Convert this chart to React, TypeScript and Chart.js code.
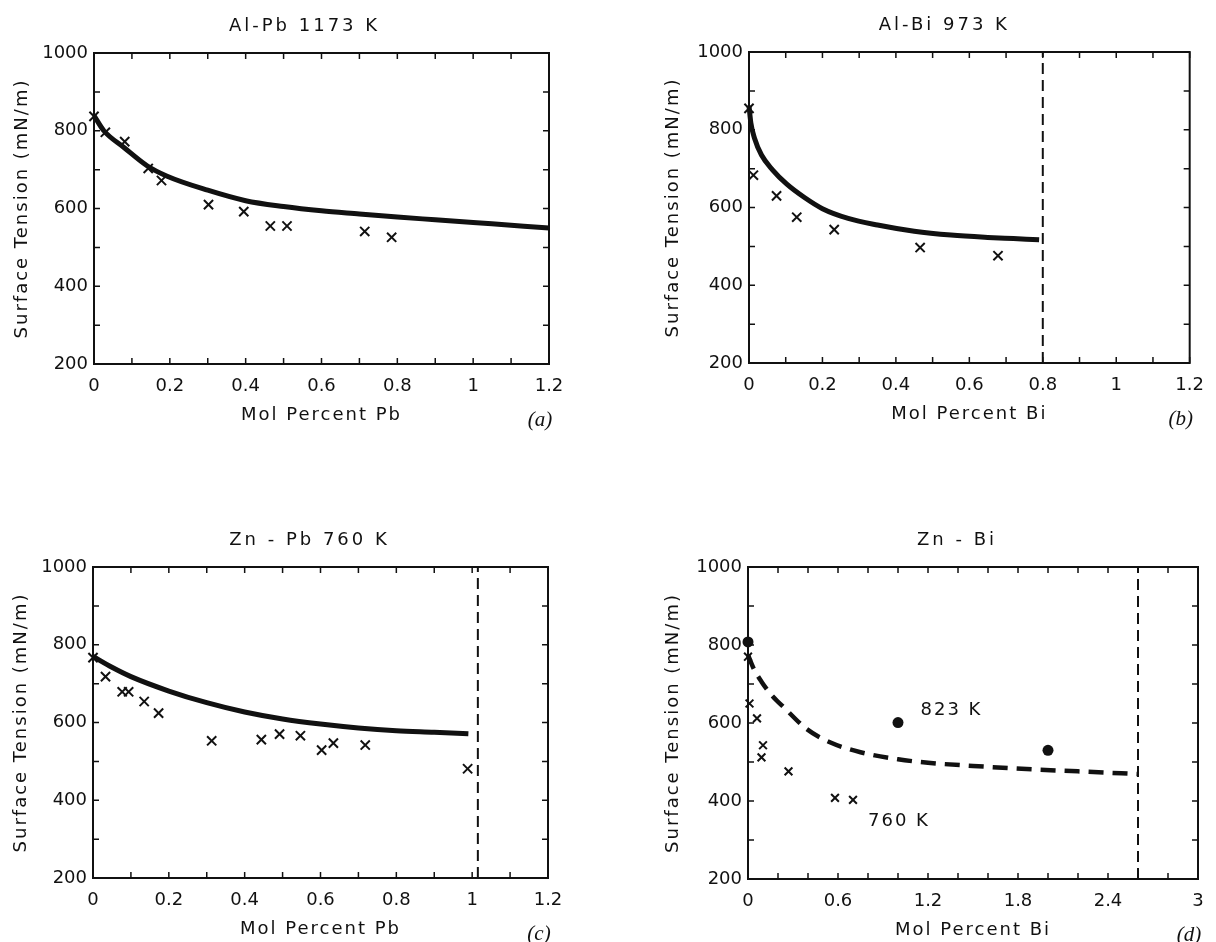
import React, { useEffect, useRef } from "react";
import { Chart, registerables } from "chart.js";

Chart.register(...registerables);

// ---------------- data ----------------
// (a) Al-Pb 1173 K
const alPbMeasX = [0, 0.03, 0.081, 0.143, 0.178, 0.302, 0.395, 0.465, 0.509, 0.714, 0.785];
const alPbMeasY = [837, 796, 772, 703, 672, 610, 592, 555, 555, 541, 526];
const alPbCalcX = [0, 0.026, 0.079, 0.14, 0.193, 0.3, 0.4, 0.5, 0.6, 0.7, 0.8, 0.9, 1.0, 1.1, 1.2];
const alPbCalcY = [839, 800, 757, 710, 683, 647, 620, 605, 594, 586, 578, 571, 564, 557, 550];

// (b) Al-Bi 973 K
const alBiMeasX = [0, 0.012, 0.075, 0.13, 0.232, 0.466, 0.678];
const alBiMeasY = [855, 683, 630, 575, 543, 497, 476];
const alBiCalcX = [0, 0.005, 0.015, 0.034, 0.064, 0.103, 0.152, 0.2, 0.27, 0.35, 0.45, 0.55, 0.65, 0.72, 0.79];
const alBiCalcY = [862, 818, 778, 735, 697, 660, 625, 597, 572, 555, 539, 529, 523, 520, 517];
const alBiLimit = 0.8;

// (c) Zn-Pb 760 K
const znPbMeasX = [0, 0.033, 0.077, 0.094, 0.135, 0.173, 0.313, 0.444, 0.492, 0.547, 0.603, 0.634, 0.718, 0.988];
const znPbMeasY = [767, 718, 679, 679, 654, 624, 553, 556, 570, 566, 529, 547, 542, 481];
const znPbCalcX = [0, 0.05, 0.1, 0.2, 0.3, 0.4, 0.5, 0.6, 0.7, 0.8, 0.9, 0.99];
const znPbCalcY = [770, 742, 718, 681, 651, 627, 609, 596, 586, 579, 575, 571];
const znPbLimit = 1.015;

// (d) Zn-Bi (760 K crosses, 823 K dots)
const znBi760X = [0, 0.01, 0.06, 0.1, 0.09, 0.27, 0.58, 0.7];
const znBi760Y = [770, 650, 612, 543, 512, 476, 408, 403];
const znBi823X = [0, 1.0, 2.0];
const znBi823Y = [808, 601, 530];
const znBiCalcX = [0, 0.01, 0.04, 0.09, 0.15, 0.25, 0.39, 0.55, 0.75, 1.0, 1.2, 1.5, 1.9, 2.2, 2.6];
const znBiCalcY = [775, 765, 738, 706, 675, 636, 585, 550, 525, 507, 498, 490, 481, 476, 469];
const znBiLimit = 2.6;

const yTickMin = 200;
const yTickMax = 1000;
const yTitle = "Surface Tension (mN/m)";

// ---------------- helpers ----------------
const INK = "#111";
const FONT = "DejaVu Sans";
const CW = 608;
const CH = 471;
const XH = 62;

const pts = (xs: number[], ys: number[]) => xs.map((x, i) => ({ x, y: ys[i] }));

const crosses = (xs: number[], ys: number[], r = 6.5) => ({
  data: pts(xs, ys),
  showLine: false,
  pointStyle: "crossRot",
  pointRadius: r,
  pointBorderWidth: 2,
  pointBorderColor: INK,
  pointBackgroundColor: INK,
  borderColor: INK,
  clip: false,
});

const curve = (xs: number[], ys: number[], dash: number[] = [], w = 5) => ({
  data: pts(xs, ys),
  showLine: true,
  pointRadius: 0,
  borderWidth: w,
  borderColor: INK,
  borderDash: dash,
  borderCapStyle: "butt",
  cubicInterpolationMode: "monotone",
  tension: 0.4,
  fill: false,
  clip: false,
});

const limitLine = (x: number) => ({
  data: [
    { x, y: yTickMin },
    { x, y: yTickMax },
  ],
  showLine: true,
  pointRadius: 0,
  borderWidth: 2,
  borderColor: INK,
  borderDash: [11, 6],
  tension: 0,
  fill: false,
});

const dots = (xs: number[], ys: number[]) => ({
  data: pts(xs, ys),
  showLine: false,
  pointStyle: "circle",
  pointRadius: 5.5,
  pointBorderWidth: 0,
  pointBackgroundColor: INK,
  clip: false,
});

const framePlugin = {
  id: "frame",
  beforeDraw(chart: any) {
    chart.ctx.letterSpacing = "2px";
  },
  beforeDatasetsDraw(chart: any) {
    chart.ctx.letterSpacing = "0px";
  },
  afterDraw(chart: any, _args: any, opts: any) {
    const { ctx, chartArea: a, scales } = chart;
    ctx.save();
    ctx.letterSpacing = "0px";
    ctx.strokeStyle = INK;
    ctx.lineWidth = 2;
    ctx.strokeRect(a.left, a.top, a.right - a.left, a.bottom - a.top);
    ctx.lineWidth = 1.5;
    const L = 6;
    ctx.beginPath();
    scales.x.ticks.forEach((t: any) => {
      const px = scales.x.getPixelForValue(t.value);
      ctx.moveTo(px, a.bottom);
      ctx.lineTo(px, a.bottom - L);
      ctx.moveTo(px, a.top);
      ctx.lineTo(px, a.top + L);
    });
    scales.y.ticks.forEach((t: any) => {
      const py = scales.y.getPixelForValue(t.value);
      ctx.moveTo(a.left, py);
      ctx.lineTo(a.left + L, py);
      ctx.moveTo(a.right, py);
      ctx.lineTo(a.right - L, py);
    });
    ctx.stroke();

    ctx.fillStyle = INK;
    ctx.letterSpacing = "3px";
    ctx.font = `18px "${FONT}"`;
    ctx.textAlign = "center";
    ctx.textBaseline = "middle";
    ctx.fillText(opts.title, (a.left + a.right) / 2 + opts.titleDx, a.top - 27);

    ctx.letterSpacing = "2px";
    ctx.textAlign = "left";
    (opts.notes || []).forEach((n: any) => {
      ctx.fillText(n.text, scales.x.getPixelForValue(n.x), scales.y.getPixelForValue(n.y));
    });

    ctx.letterSpacing = "0px";
    ctx.textAlign = "center";
    ctx.font = `italic 21px "Liberation Serif"`;
    ctx.fillText(opts.tag, a.right - 9, a.bottom + 56);
    ctx.restore();
  },
};

type PanelDef = {
  left: number;
  top: number;
  area: { left: number; top: number; right: number; bottom: number };
  yTitleX: number;
  titleDx: number;
  xMax: number;
  xStep: number;
  xLabelEvery: number;
  xTitle: string;
  title: string;
  tag: string;
  datasets: any[];
  notes?: { text: string; x: number; y: number }[];
};

const panels: PanelDef[] = [
  {
    left: 0,
    top: 0,
    area: { left: 94, top: 53, right: 549, bottom: 364 },
    yTitleX: 22,
    titleDx: -17,
    xMax: 1.2,
    xStep: 0.1,
    xLabelEvery: 2,
    xTitle: "Mol Percent Pb",
    title: "Al-Pb 1173 K",
    tag: "(a)",
    datasets: [curve(alPbCalcX, alPbCalcY), crosses(alPbMeasX, alPbMeasY)],
  },
  {
    left: 608,
    top: 0,
    area: { left: 141, top: 52, right: 593, bottom: 363 },
    yTitleX: 65,
    titleDx: -25,
    xMax: 1.2,
    xStep: 0.1,
    xLabelEvery: 2,
    xTitle: "Mol Percent Bi",
    title: "Al-Bi 973 K",
    tag: "(b)",
    datasets: [curve(alBiCalcX, alBiCalcY), crosses(alBiMeasX, alBiMeasY), limitLine(alBiLimit)],
  },
  {
    left: 0,
    top: 471,
    area: { left: 93, top: 96, right: 548, bottom: 407 },
    yTitleX: 21,
    titleDx: -11,
    xMax: 1.2,
    xStep: 0.1,
    xLabelEvery: 2,
    xTitle: "Mol Percent Pb",
    title: "Zn - Pb 760 K",
    tag: "(c)",
    datasets: [curve(znPbCalcX, znPbCalcY), crosses(znPbMeasX, znPbMeasY), limitLine(znPbLimit)],
  },
  {
    left: 608,
    top: 471,
    area: { left: 140, top: 96, right: 590, bottom: 408 },
    yTitleX: 65,
    titleDx: -16,
    xMax: 3,
    xStep: 0.2,
    xLabelEvery: 3,
    xTitle: "Mol Percent Bi",
    title: "Zn - Bi",
    tag: "(d)",
    datasets: [
      curve(znBiCalcX, znBiCalcY, [15, 9], 4.5),
      crosses(znBi760X, znBi760Y, 5.5),
      dots(znBi823X, znBi823Y),
      limitLine(znBiLimit),
    ],
    notes: [
      { text: "823 K", x: 1.15, y: 632 },
      { text: "760 K", x: 0.8, y: 347 },
    ],
  },
];

function buildConfig(p: PanelDef): any {
  const padLeft = p.yTitleX - 12.8;
  const yWidth = p.area.left - padLeft;
  const font = { family: FONT, size: 18 };
  return {
    type: "scatter",
    data: { datasets: p.datasets },
    options: {
      responsive: false,
      animation: false,
      devicePixelRatio: 1,
      events: [],
      layout: {
        padding: {
          left: padLeft,
          top: p.area.top,
          right: CW - p.area.right,
          bottom: CH - p.area.bottom - XH,
        },
      },
      plugins: {
        legend: { display: false },
        tooltip: { enabled: false },
        title: { display: false },
        frame: { title: p.title, titleDx: p.titleDx, tag: p.tag, notes: p.notes || [] },
      },
      scales: {
        x: {
          type: "linear",
          min: 0,
          max: p.xMax,
          afterFit: (s: any) => {
            s.height = XH;
          },
          grid: { display: false, drawTicks: false },
          border: { display: false },
          ticks: {
            stepSize: p.xStep,
            autoSkip: false,
            maxRotation: 0,
            padding: 12,
            color: INK,
            font,
            z: 1,
            callback: (v: number) => {
              const k = Math.round(v / p.xStep);
              return k % p.xLabelEvery === 0 ? String(Math.round(v * 10) / 10) : "";
            },
          },
          title: {
            display: true,
            text: p.xTitle,
            color: INK,
            font,
            padding: { top: 0, bottom: 0 },
          },
        },
        y: {
          type: "linear",
          min: yTickMin,
          max: yTickMax,
          afterFit: (s: any) => {
            s.width = yWidth;
          },
          grid: { display: false, drawTicks: false },
          border: { display: false },
          ticks: {
            stepSize: 100,
            autoSkip: false,
            padding: 6,
            color: INK,
            font,
            z: 1,
            callback: (v: number) => (Math.round(v) % 200 === 0 ? String(Math.round(v)) : ""),
          },
          title: {
            display: true,
            text: yTitle,
            color: INK,
            font,
            padding: { top: 2, bottom: 0 },
          },
        },
      },
    },
    plugins: [framePlugin],
  };
}

function PanelChart({ p }: { p: PanelDef }) {
  const ref = useRef<HTMLCanvasElement>(null);
  useEffect(() => {
    const chart = new Chart(ref.current as HTMLCanvasElement, buildConfig(p));
    return () => chart.destroy();
  }, [p]);
  return (
    <canvas
      ref={ref}
      width={CW}
      height={CH}
      style={{ position: "absolute", left: p.left, top: p.top, width: CW, height: CH }}
    />
  );
}

export default function App() {
  return (
    <div
      style={{
        position: "absolute",
        left: 0,
        top: 0,
        width: 1216,
        height: 942,
        overflow: "hidden",
        background: "#fff",
      }}
    >
      {panels.map((p, i) => (
        <PanelChart key={i} p={p} />
      ))}
    </div>
  );
}
